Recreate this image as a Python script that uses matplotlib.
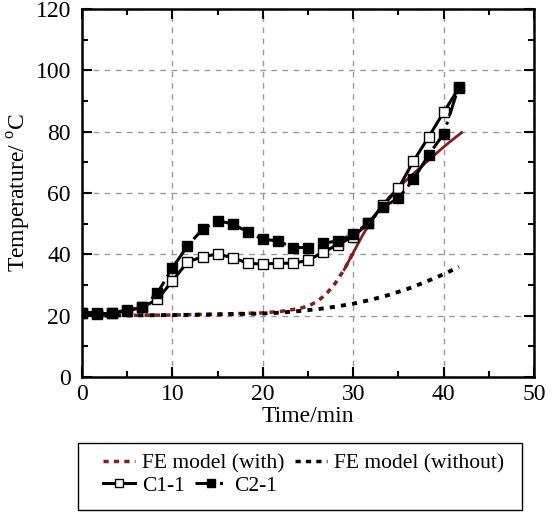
import numpy as np
import matplotlib.pyplot as plt
from matplotlib.patches import Rectangle
from matplotlib.lines import Line2D

plt.rcParams['font.family'] = ['Liberation Serif', 'DejaVu Serif']
plt.rcParams['mathtext.fontset'] = 'custom'
plt.rcParams['mathtext.rm'] = 'Liberation Serif'

# test data, sampled every 100 s
t_test = np.arange(26) * 100 / 60.0
c1_1 = [20.8, 20.6, 20.8, 21.6, 22.7, 25.3, 31.3, 37.5, 39.2, 40.1, 38.9, 37.1, 36.8,
        37.1, 37.1, 38.0, 40.7, 43.2, 45.8, 50.1, 56.1, 61.5, 70.4, 78.2, 86.3, 94.1]
c2_1 = [21.0, 21.0, 21.0, 21.8, 22.7, 27.3, 35.6, 42.7, 48.2, 51.0, 49.9, 47.3, 44.9,
        44.4, 42.2, 42.2, 43.6, 44.4, 46.6, 50.1, 55.5, 58.3, 64.4, 72.4, 79.2, 94.6]

# FE model results
t_with = [0, 5, 10, 15, 20, 22, 24, 25, 26, 27, 28, 29, 30, 31, 32, 33, 34, 35, 36, 37, 38, 39, 40, 41, 42]
fe_with = [20.0, 20.1, 20.2, 20.5, 20.9, 21.4, 22.3, 23.1, 24.6, 27.0, 30.5, 35.0, 40.5,
           46.0, 51.0, 55.0, 58.7, 61.8, 64.5, 67.2, 69.8, 72.4, 75.0, 77.4, 79.7]
t_without = [0, 5, 10, 15, 20, 22, 24, 26, 28, 30, 32, 34, 36, 38, 40, 41.7]
fe_without = [20.0, 20.1, 20.2, 20.4, 20.7, 21.0, 21.5, 22.1, 22.9, 23.9, 25.2, 26.8,
              28.7, 31.0, 33.5, 35.9]

red = '#8b1a1a'

fig = plt.figure(figsize=(5.56, 5.13), dpi=100)
ax = fig.add_axes([0.1475, 0.2651, 0.8129, 0.7174])

# FE with: dashed where flat, solid where it rises
k = 12
ax.plot(t_with[:k + 1], fe_with[:k + 1], color=red, lw=2.5, dashes=(1.5, 1.5), zorder=2)
ax.plot(t_with[k - 1:], fe_with[k - 1:], color=red, lw=2.0, zorder=2)
ax.plot(t_without, fe_without, color='black', lw=2.8, dashes=(1.3, 1.6), zorder=2)

ax.plot(t_test, c1_1, color='black', lw=2.2, marker='s', ms=7, mfc='white',
        mec='black', mew=1.0, zorder=3)
ax.plot(t_test, c2_1, color='black', lw=2.2, ls=(0, (7, 2, 1, 2)), marker='s', ms=7.5,
        mfc='black', mec='black', zorder=4)

ax.set_xlim(0, 50)
ax.set_ylim(0, 120)
ax.set_xticks(np.arange(0, 51, 10))
ax.set_xticks(np.arange(0, 51, 5), minor=True)
ax.set_yticks(np.arange(0, 121, 20))
ax.set_yticks(np.arange(0, 121, 10), minor=True)
ax.grid(True, which='major', color='#999999', ls=(0, (4, 4)), lw=1.0)
ax.tick_params(which='both', direction='in', top=True, right=True, labelsize=17, width=1.5)
ax.tick_params(which='major', length=7)
ax.tick_params(which='minor', length=4)
ax.tick_params(axis='x', pad=5)
ax.tick_params(axis='y', pad=8)
for s in ax.spines.values():
    s.set_linewidth(1.8)

ax.set_xlabel('Time/min', fontsize=17, labelpad=1)
ax.set_ylabel(r'Temperature/ $^{\mathrm{o}}$C', fontsize=17, labelpad=2)

# legend: framed box with two rows
fig.patches.append(Rectangle((78 / 556, 1 - 510 / 513), 444 / 556, 67 / 513,
                             transform=fig.transFigure, fill=False, ec='black', lw=1.0))
h_with = Line2D([], [], color=red, lw=2.5, dashes=(1.5, 1.5))
h_without = Line2D([], [], color='black', lw=2.5, dashes=(1.5, 1.5))
h_c1 = Line2D([], [], color='black', lw=2.2, marker='s', ms=6, mfc='white', mec='black')
h_c2 = Line2D([], [], color='black', lw=2.2, ls=(0, (6, 2, 1, 2)), marker='s', ms=6,
              mfc='black', mec='black')
kw = dict(frameon=False, borderpad=0, borderaxespad=0, handlelength=1.5,
          handletextpad=0.3, columnspacing=0.5, fontsize=15.5, numpoints=1, ncol=2)
fig.legend([h_with, h_without], ['FE model (with)', 'FE model (without)'],
           loc='center left', bbox_to_anchor=(103 / 556, 1 - 463 / 513), **kw)
fig.legend([h_c1, h_c2], ['C1-1', 'C2-1'],
           loc='center left', bbox_to_anchor=(103 / 556, 1 - 486 / 513), **kw)

fig.savefig('out.png', dpi=100)
